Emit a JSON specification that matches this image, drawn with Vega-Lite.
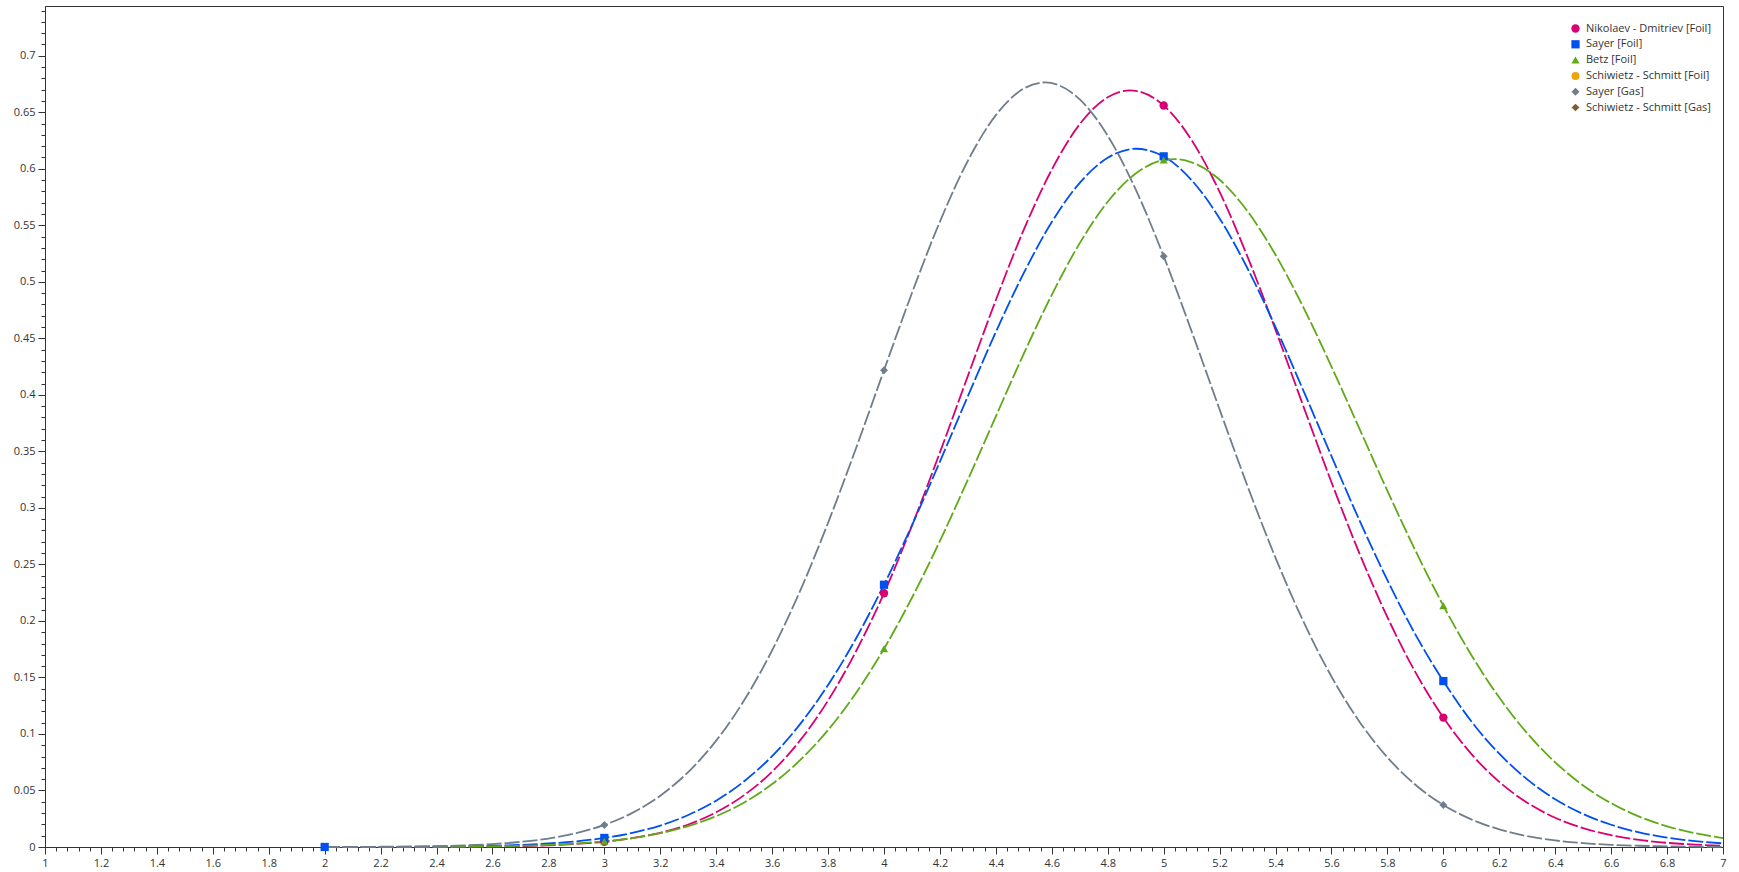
{
 "$schema": "https://vega.github.io/schema/vega-lite/v6.json",
 "width": 1678, "height": 841,
 "autosize": {"type": "none"},
 "padding": {"left": 45, "top": 6, "right": 16, "bottom": 25},
 "background": "white",
 "config": {
  "view": {"stroke": "#333", "strokeWidth": 1},
  "font": "Open Sans",
  "axis": {"grid": false, "title": null, "domainColor": "#333", "tickColor": "#333", "labelColor": "#333", "labelFont": "Open Sans", "labelFontSize": 11, "labelOverlap": false, "labelBound": false}
 },
 "datasets": {
  "curves": [
   {"series":"Nikolaev - Dmitriev [Foil]","x":2.0,"y":0.00001},{"series":"Nikolaev - Dmitriev [Foil]","x":2.2,"y":0.00003},{"series":"Nikolaev - Dmitriev [Foil]","x":2.4,"y":0.0001},{"series":"Nikolaev - Dmitriev [Foil]","x":2.5,"y":0.0002},{"series":"Nikolaev - Dmitriev [Foil]","x":2.6,"y":0.0004},{"series":"Nikolaev - Dmitriev [Foil]","x":2.7,"y":0.0008},{"series":"Nikolaev - Dmitriev [Foil]","x":2.8,"y":0.0015},{"series":"Nikolaev - Dmitriev [Foil]","x":2.9,"y":0.0027},{"series":"Nikolaev - Dmitriev [Foil]","x":3.0,"y":0.0046},{"series":"Nikolaev - Dmitriev [Foil]","x":3.1,"y":0.0078},{"series":"Nikolaev - Dmitriev [Foil]","x":3.2,"y":0.0126},{"series":"Nikolaev - Dmitriev [Foil]","x":3.3,"y":0.0199},{"series":"Nikolaev - Dmitriev [Foil]","x":3.4,"y":0.0307},{"series":"Nikolaev - Dmitriev [Foil]","x":3.5,"y":0.0459},{"series":"Nikolaev - Dmitriev [Foil]","x":3.6,"y":0.0667},{"series":"Nikolaev - Dmitriev [Foil]","x":3.7,"y":0.0943},{"series":"Nikolaev - Dmitriev [Foil]","x":3.8,"y":0.1296},{"series":"Nikolaev - Dmitriev [Foil]","x":3.9,"y":0.1732},{"series":"Nikolaev - Dmitriev [Foil]","x":4.0,"y":0.2245},{"series":"Nikolaev - Dmitriev [Foil]","x":4.1,"y":0.2843},{"series":"Nikolaev - Dmitriev [Foil]","x":4.2,"y":0.3491},{"series":"Nikolaev - Dmitriev [Foil]","x":4.3,"y":0.4168},{"series":"Nikolaev - Dmitriev [Foil]","x":4.4,"y":0.4839},{"series":"Nikolaev - Dmitriev [Foil]","x":4.5,"y":0.5462},{"series":"Nikolaev - Dmitriev [Foil]","x":4.6,"y":0.5993},{"series":"Nikolaev - Dmitriev [Foil]","x":4.7,"y":0.6395},{"series":"Nikolaev - Dmitriev [Foil]","x":4.8,"y":0.6633},{"series":"Nikolaev - Dmitriev [Foil]","x":4.88,"y":0.6693},{"series":"Nikolaev - Dmitriev [Foil]","x":4.9,"y":0.6689},{"series":"Nikolaev - Dmitriev [Foil]","x":5.0,"y":0.656},{"series":"Nikolaev - Dmitriev [Foil]","x":5.1,"y":0.6253},{"series":"Nikolaev - Dmitriev [Foil]","x":5.2,"y":0.5795},{"series":"Nikolaev - Dmitriev [Foil]","x":5.3,"y":0.5221},{"series":"Nikolaev - Dmitriev [Foil]","x":5.4,"y":0.4575},{"series":"Nikolaev - Dmitriev [Foil]","x":5.5,"y":0.3896},{"series":"Nikolaev - Dmitriev [Foil]","x":5.6,"y":0.3227},{"series":"Nikolaev - Dmitriev [Foil]","x":5.7,"y":0.2598},{"series":"Nikolaev - Dmitriev [Foil]","x":5.8,"y":0.2033},{"series":"Nikolaev - Dmitriev [Foil]","x":5.9,"y":0.1547},{"series":"Nikolaev - Dmitriev [Foil]","x":6.0,"y":0.1145},{"series":"Nikolaev - Dmitriev [Foil]","x":6.1,"y":0.0824},{"series":"Nikolaev - Dmitriev [Foil]","x":6.2,"y":0.0576},{"series":"Nikolaev - Dmitriev [Foil]","x":6.3,"y":0.0392},{"series":"Nikolaev - Dmitriev [Foil]","x":6.4,"y":0.0259},{"series":"Nikolaev - Dmitriev [Foil]","x":6.5,"y":0.0167},{"series":"Nikolaev - Dmitriev [Foil]","x":6.6,"y":0.0104},{"series":"Nikolaev - Dmitriev [Foil]","x":6.7,"y":0.0063},{"series":"Nikolaev - Dmitriev [Foil]","x":6.8,"y":0.0037},{"series":"Nikolaev - Dmitriev [Foil]","x":6.9,"y":0.0021},{"series":"Nikolaev - Dmitriev [Foil]","x":7.0,"y":0.0012},
   {"series":"Sayer [Foil]","x":2.0,"y":0.00003},{"series":"Sayer [Foil]","x":2.2,"y":0.0001},{"series":"Sayer [Foil]","x":2.4,"y":0.0003},{"series":"Sayer [Foil]","x":2.5,"y":0.0006},{"series":"Sayer [Foil]","x":2.6,"y":0.0011},{"series":"Sayer [Foil]","x":2.7,"y":0.0018},{"series":"Sayer [Foil]","x":2.8,"y":0.0031},{"series":"Sayer [Foil]","x":2.9,"y":0.005},{"series":"Sayer [Foil]","x":3.0,"y":0.008},{"series":"Sayer [Foil]","x":3.1,"y":0.0125},{"series":"Sayer [Foil]","x":3.2,"y":0.019},{"series":"Sayer [Foil]","x":3.3,"y":0.0283},{"series":"Sayer [Foil]","x":3.4,"y":0.041},{"series":"Sayer [Foil]","x":3.5,"y":0.0582},{"series":"Sayer [Foil]","x":3.6,"y":0.0804},{"series":"Sayer [Foil]","x":3.7,"y":0.1087},{"series":"Sayer [Foil]","x":3.8,"y":0.1433},{"series":"Sayer [Foil]","x":3.9,"y":0.1845},{"series":"Sayer [Foil]","x":4.0,"y":0.232},{"series":"Sayer [Foil]","x":4.1,"y":0.2846},{"series":"Sayer [Foil]","x":4.2,"y":0.341},{"series":"Sayer [Foil]","x":4.3,"y":0.3989},{"series":"Sayer [Foil]","x":4.4,"y":0.4556},{"series":"Sayer [Foil]","x":4.5,"y":0.5079},{"series":"Sayer [Foil]","x":4.6,"y":0.5529},{"series":"Sayer [Foil]","x":4.7,"y":0.5876},{"series":"Sayer [Foil]","x":4.8,"y":0.6097},{"series":"Sayer [Foil]","x":4.9,"y":0.6177},{"series":"Sayer [Foil]","x":5.0,"y":0.611},{"series":"Sayer [Foil]","x":5.1,"y":0.5899},{"series":"Sayer [Foil]","x":5.2,"y":0.5561},{"series":"Sayer [Foil]","x":5.3,"y":0.5118},{"series":"Sayer [Foil]","x":5.4,"y":0.46},{"series":"Sayer [Foil]","x":5.5,"y":0.4035},{"series":"Sayer [Foil]","x":5.6,"y":0.3457},{"series":"Sayer [Foil]","x":5.7,"y":0.289},{"series":"Sayer [Foil]","x":5.8,"y":0.236},{"series":"Sayer [Foil]","x":5.9,"y":0.1881},{"series":"Sayer [Foil]","x":6.0,"y":0.1468},{"series":"Sayer [Foil]","x":6.1,"y":0.1112},{"series":"Sayer [Foil]","x":6.2,"y":0.0825},{"series":"Sayer [Foil]","x":6.3,"y":0.0598},{"series":"Sayer [Foil]","x":6.4,"y":0.0422},{"series":"Sayer [Foil]","x":6.5,"y":0.0292},{"series":"Sayer [Foil]","x":6.6,"y":0.0197},{"series":"Sayer [Foil]","x":6.7,"y":0.0129},{"series":"Sayer [Foil]","x":6.8,"y":0.0083},{"series":"Sayer [Foil]","x":6.9,"y":0.0052},{"series":"Sayer [Foil]","x":7.0,"y":0.0032},
   {"series":"Betz [Foil]","x":2.0,"y":0.00001},{"series":"Betz [Foil]","x":2.2,"y":0.00005},{"series":"Betz [Foil]","x":2.4,"y":0.0002},{"series":"Betz [Foil]","x":2.5,"y":0.0003},{"series":"Betz [Foil]","x":2.6,"y":0.0006},{"series":"Betz [Foil]","x":2.7,"y":0.0011},{"series":"Betz [Foil]","x":2.8,"y":0.0018},{"series":"Betz [Foil]","x":2.9,"y":0.0031},{"series":"Betz [Foil]","x":3.0,"y":0.005},{"series":"Betz [Foil]","x":3.1,"y":0.0079},{"series":"Betz [Foil]","x":3.2,"y":0.0122},{"series":"Betz [Foil]","x":3.3,"y":0.0185},{"series":"Betz [Foil]","x":3.4,"y":0.0273},{"series":"Betz [Foil]","x":3.5,"y":0.0394},{"series":"Betz [Foil]","x":3.6,"y":0.0557},{"series":"Betz [Foil]","x":3.7,"y":0.0768},{"series":"Betz [Foil]","x":3.8,"y":0.1035},{"series":"Betz [Foil]","x":3.9,"y":0.1363},{"series":"Betz [Foil]","x":4.0,"y":0.1754},{"series":"Betz [Foil]","x":4.1,"y":0.2205},{"series":"Betz [Foil]","x":4.2,"y":0.2708},{"series":"Betz [Foil]","x":4.3,"y":0.325},{"series":"Betz [Foil]","x":4.4,"y":0.381},{"series":"Betz [Foil]","x":4.5,"y":0.4365},{"series":"Betz [Foil]","x":4.6,"y":0.4885},{"series":"Betz [Foil]","x":4.7,"y":0.5342},{"series":"Betz [Foil]","x":4.8,"y":0.5708},{"series":"Betz [Foil]","x":4.9,"y":0.5958},{"series":"Betz [Foil]","x":5.0,"y":0.6077},{"series":"Betz [Foil]","x":5.04,"y":0.6086},{"series":"Betz [Foil]","x":5.1,"y":0.6057},{"series":"Betz [Foil]","x":5.2,"y":0.5903},{"series":"Betz [Foil]","x":5.3,"y":0.5624},{"series":"Betz [Foil]","x":5.4,"y":0.5239},{"series":"Betz [Foil]","x":5.5,"y":0.4772},{"series":"Betz [Foil]","x":5.6,"y":0.425},{"series":"Betz [Foil]","x":5.7,"y":0.3701},{"series":"Betz [Foil]","x":5.8,"y":0.3151},{"series":"Betz [Foil]","x":5.9,"y":0.2623},{"series":"Betz [Foil]","x":6.0,"y":0.2135},{"series":"Betz [Foil]","x":6.1,"y":0.1699},{"series":"Betz [Foil]","x":6.2,"y":0.1322},{"series":"Betz [Foil]","x":6.3,"y":0.1006},{"series":"Betz [Foil]","x":6.4,"y":0.0749},{"series":"Betz [Foil]","x":6.5,"y":0.0544},{"series":"Betz [Foil]","x":6.6,"y":0.0387},{"series":"Betz [Foil]","x":6.7,"y":0.0269},{"series":"Betz [Foil]","x":6.8,"y":0.0183},{"series":"Betz [Foil]","x":6.9,"y":0.0122},{"series":"Betz [Foil]","x":7.0,"y":0.0079},
   {"series":"Sayer [Gas]","x":2.0,"y":0.00005},{"series":"Sayer [Gas]","x":2.2,"y":0.0002},{"series":"Sayer [Gas]","x":2.4,"y":0.0008},{"series":"Sayer [Gas]","x":2.5,"y":0.0014},{"series":"Sayer [Gas]","x":2.6,"y":0.0026},{"series":"Sayer [Gas]","x":2.7,"y":0.0045},{"series":"Sayer [Gas]","x":2.8,"y":0.0075},{"series":"Sayer [Gas]","x":2.9,"y":0.0123},{"series":"Sayer [Gas]","x":3.0,"y":0.0195},{"series":"Sayer [Gas]","x":3.1,"y":0.0302},{"series":"Sayer [Gas]","x":3.2,"y":0.0454},{"series":"Sayer [Gas]","x":3.3,"y":0.0663},{"series":"Sayer [Gas]","x":3.4,"y":0.0941},{"series":"Sayer [Gas]","x":3.5,"y":0.1298},{"series":"Sayer [Gas]","x":3.6,"y":0.174},{"series":"Sayer [Gas]","x":3.7,"y":0.2265},{"series":"Sayer [Gas]","x":3.8,"y":0.2868},{"series":"Sayer [Gas]","x":3.9,"y":0.3528},{"series":"Sayer [Gas]","x":4.0,"y":0.4218},{"series":"Sayer [Gas]","x":4.1,"y":0.4901},{"series":"Sayer [Gas]","x":4.2,"y":0.5533},{"series":"Sayer [Gas]","x":4.3,"y":0.6071},{"series":"Sayer [Gas]","x":4.4,"y":0.6475},{"series":"Sayer [Gas]","x":4.5,"y":0.671},{"series":"Sayer [Gas]","x":4.575,"y":0.6764},{"series":"Sayer [Gas]","x":4.7,"y":0.6614},{"series":"Sayer [Gas]","x":4.8,"y":0.6292},{"series":"Sayer [Gas]","x":4.9,"y":0.5817},{"series":"Sayer [Gas]","x":5.0,"y":0.5226},{"series":"Sayer [Gas]","x":5.1,"y":0.4562},{"series":"Sayer [Gas]","x":5.2,"y":0.3871},{"series":"Sayer [Gas]","x":5.3,"y":0.3192},{"series":"Sayer [Gas]","x":5.4,"y":0.2558},{"series":"Sayer [Gas]","x":5.5,"y":0.1993},{"series":"Sayer [Gas]","x":5.6,"y":0.1508},{"series":"Sayer [Gas]","x":5.7,"y":0.1109},{"series":"Sayer [Gas]","x":5.8,"y":0.0793},{"series":"Sayer [Gas]","x":5.9,"y":0.0551},{"series":"Sayer [Gas]","x":6.0,"y":0.0372},{"series":"Sayer [Gas]","x":6.1,"y":0.0244},{"series":"Sayer [Gas]","x":6.2,"y":0.0156},{"series":"Sayer [Gas]","x":6.3,"y":0.0096},{"series":"Sayer [Gas]","x":6.4,"y":0.0058},{"series":"Sayer [Gas]","x":6.5,"y":0.0034},{"series":"Sayer [Gas]","x":6.6,"y":0.0019},{"series":"Sayer [Gas]","x":6.7,"y":0.0011},{"series":"Sayer [Gas]","x":6.8,"y":0.0006},{"series":"Sayer [Gas]","x":6.9,"y":0.0003},{"series":"Sayer [Gas]","x":7.0,"y":0.00015}
  ],
  "pts": [
   {"series":"Nikolaev - Dmitriev [Foil]","x":3,"y":0.0046},{"series":"Nikolaev - Dmitriev [Foil]","x":4,"y":0.2245},{"series":"Nikolaev - Dmitriev [Foil]","x":5,"y":0.656},{"series":"Nikolaev - Dmitriev [Foil]","x":6,"y":0.1145},
   {"series":"Sayer [Foil]","x":2,"y":0.00003},{"series":"Sayer [Foil]","x":3,"y":0.008},{"series":"Sayer [Foil]","x":4,"y":0.232},{"series":"Sayer [Foil]","x":5,"y":0.611},{"series":"Sayer [Foil]","x":6,"y":0.1468},
   {"series":"Betz [Foil]","x":3,"y":0.005},{"series":"Betz [Foil]","x":4,"y":0.1754},{"series":"Betz [Foil]","x":5,"y":0.6077},{"series":"Betz [Foil]","x":6,"y":0.2135},
   {"series":"Sayer [Gas]","x":3,"y":0.0195},{"series":"Sayer [Gas]","x":4,"y":0.4218},{"series":"Sayer [Gas]","x":5,"y":0.5226},{"series":"Sayer [Gas]","x":6,"y":0.0372}
  ]
 },
 "encoding": {
  "x": {"field": "x", "type": "quantitative", "scale": {"domain": [1, 7], "nice": false, "zero": false},
   "axis": {"values": [1,1.04,1.08,1.12,1.16,1.2,1.24,1.28,1.32,1.36,1.4,1.44,1.48,1.52,1.56,1.6,1.64,1.68,1.72,1.76,1.8,1.84,1.88,1.92,1.96,2,2.04,2.08,2.12,2.16,2.2,2.24,2.28,2.32,2.36,2.4,2.44,2.48,2.52,2.56,2.6,2.64,2.68,2.72,2.76,2.8,2.84,2.88,2.92,2.96,3,3.04,3.08,3.12,3.16,3.2,3.24,3.28,3.32,3.36,3.4,3.44,3.48,3.52,3.56,3.6,3.64,3.68,3.72,3.76,3.8,3.84,3.88,3.92,3.96,4,4.04,4.08,4.12,4.16,4.2,4.24,4.28,4.32,4.36,4.4,4.44,4.48,4.52,4.56,4.6,4.64,4.68,4.72,4.76,4.8,4.84,4.88,4.92,4.96,5,5.04,5.08,5.12,5.16,5.2,5.24,5.28,5.32,5.36,5.4,5.44,5.48,5.52,5.56,5.6,5.64,5.68,5.72,5.76,5.8,5.84,5.88,5.92,5.96,6,6.04,6.08,6.12,6.16,6.2,6.24,6.28,6.32,6.36,6.4,6.44,6.48,6.52,6.56,6.6,6.64,6.68,6.72,6.76,6.8,6.84,6.88,6.92,6.96,7],
    "format": "~g",
    "labelExpr": "abs(datum.value*5 - round(datum.value*5)) < 0.001 ? datum.label : ''",
    "tickSize": {"condition": {"test": "abs(datum.value*5 - round(datum.value*5)) < 0.001", "value": 7}, "value": 4},
    "labelFlush": false, "labelPadding": 3}},
  "y": {"field": "y", "type": "quantitative", "scale": {"domain": [0, 0.744], "nice": false},
   "axis": {"values": [0,0.01,0.02,0.03,0.04,0.05,0.06,0.07,0.08,0.09,0.1,0.11,0.12,0.13,0.14,0.15,0.16,0.17,0.18,0.19,0.2,0.21,0.22,0.23,0.24,0.25,0.26,0.27,0.28,0.29,0.3,0.31,0.32,0.33,0.34,0.35,0.36,0.37,0.38,0.39,0.4,0.41,0.42,0.43,0.44,0.45,0.46,0.47,0.48,0.49,0.5,0.51,0.52,0.53,0.54,0.55,0.56,0.57,0.58,0.59,0.6,0.61,0.62,0.63,0.64,0.65,0.66,0.67,0.68,0.69,0.7,0.71,0.72,0.73,0.74],
    "format": "~g",
    "labelExpr": "abs(datum.value*20 - round(datum.value*20)) < 0.001 ? datum.label : ''",
    "tickSize": {"condition": {"test": "abs(datum.value*20 - round(datum.value*20)) < 0.001", "value": 7}, "value": 4},
    "labelFlush": false, "labelPadding": 3}}
 },
 "layer": [
  {"data": {"name": "curves"},
   "mark": {"type": "line", "interpolate": "monotone", "strokeWidth": 1.8, "strokeDash": [15, 3]},
   "encoding": {"stroke": {"field": "series", "type": "nominal",
     "scale": {"domain": ["Nikolaev - Dmitriev [Foil]", "Sayer [Foil]", "Betz [Foil]", "Sayer [Gas]"], "range": ["#D80073", "#0050EF", "#60A917", "#6F7D8C"]},
     "legend": null}}},
  {"data": {"name": "pts"},
   "mark": {"type": "point", "filled": true, "opacity": 1},
   "encoding": {
    "color": {"field": "series", "type": "nominal",
     "scale": {"domain": ["Nikolaev - Dmitriev [Foil]", "Sayer [Foil]", "Betz [Foil]", "Schiwietz - Schmitt [Foil]", "Sayer [Gas]", "Schiwietz - Schmitt [Gas]"], "range": ["#D80073", "#0050EF", "#60A917", "#F0A30A", "#6F7D8C", "#825A2C"]},
     "legend": {"title": null, "orient": "none", "legendX": 1525, "legendY": 17, "padding": 0, "labelFont": "Open Sans", "labelFontSize": 11, "labelColor": "#333", "labelOffset": 5, "rowPadding": 3.8, "symbolStrokeWidth": 0}},
    "shape": {"field": "series", "type": "nominal",
     "scale": {"domain": ["Nikolaev - Dmitriev [Foil]", "Sayer [Foil]", "Betz [Foil]", "Schiwietz - Schmitt [Foil]", "Sayer [Gas]", "Schiwietz - Schmitt [Gas]"], "range": ["circle", "square", "triangle-up", "circle", "diamond", "diamond"]},
     "legend": {"title": null, "orient": "none", "legendX": 1525, "legendY": 17, "padding": 0, "labelFont": "Open Sans", "labelFontSize": 11, "labelColor": "#333", "labelOffset": 5, "rowPadding": 3.8, "symbolStrokeWidth": 0}},
    "size": {"field": "series", "type": "nominal",
     "scale": {"domain": ["Nikolaev - Dmitriev [Foil]", "Sayer [Foil]", "Betz [Foil]", "Schiwietz - Schmitt [Foil]", "Sayer [Gas]", "Schiwietz - Schmitt [Gas]"], "range": [70, 60, 115, 70, 140, 140]},
     "legend": {"title": null, "orient": "none", "legendX": 1525, "legendY": 17, "padding": 0, "labelFont": "Open Sans", "labelFontSize": 11, "labelColor": "#333", "labelOffset": 5, "rowPadding": 3.8, "symbolStrokeWidth": 0}}
   }}
 ]
}
